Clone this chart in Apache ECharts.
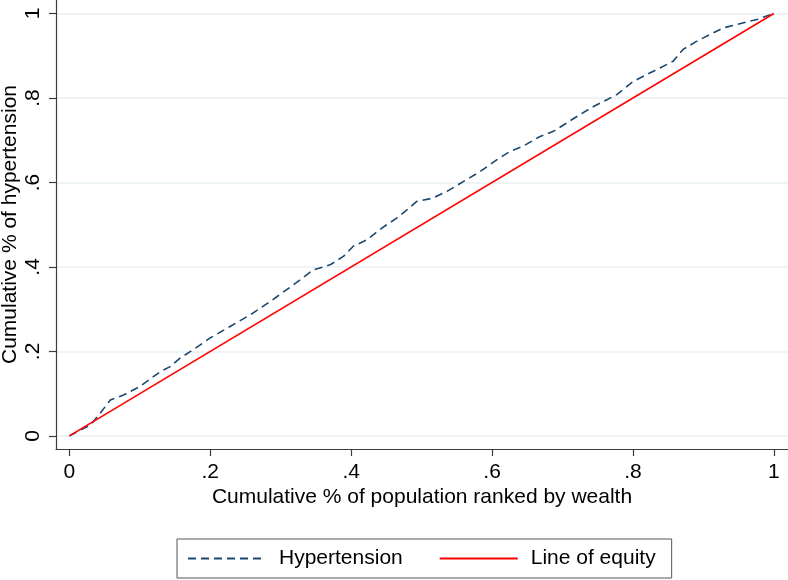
<!DOCTYPE html>
<html>
<head>
<meta charset="utf-8">
<style>
html,body{margin:0;padding:0;background:#fff;}
#chart{width:788px;height:580px;}
</style>
<script src="https://cdn.jsdelivr.net/npm/echarts@6/dist/echarts.min.js"></script>
</head>
<body>
<div id="chart"></div>
<script>
// Data
const popShare = [0, 0.030, 0.044, 0.058, 0.077, 0.100, 0.129, 0.143, 0.157, 0.172, 0.200, 0.228, 0.257, 0.285, 0.295, 0.328, 0.346, 0.370, 0.389, 0.403, 0.422, 0.446, 0.465, 0.474, 0.493, 0.516, 0.536, 0.559, 0.583, 0.607, 0.626, 0.644, 0.668, 0.687, 0.706, 0.725, 0.744, 0.763, 0.777, 0.800, 0.819, 0.838, 0.857, 0.871, 0.890, 0.909, 0.928, 0.947, 0.976, 1];
const hypertension = [0, 0.026, 0.054, 0.085, 0.097, 0.117, 0.152, 0.164, 0.184, 0.200, 0.232, 0.259, 0.287, 0.318, 0.330, 0.370, 0.393, 0.405, 0.425, 0.449, 0.464, 0.495, 0.516, 0.528, 0.555, 0.563, 0.579, 0.602, 0.626, 0.654, 0.674, 0.686, 0.709, 0.721, 0.741, 0.761, 0.780, 0.796, 0.808, 0.839, 0.855, 0.871, 0.887, 0.915, 0.934, 0.950, 0.966, 0.974, 0.986, 1];
const equityX = [0, 1];
const equityY = [0, 1];
const tickValues = [0, 0.2, 0.4, 0.6, 0.8, 1];
const seriesNames = ['Hypertension', 'Line of equity'];

function fmt(v) {
  if (Math.abs(v) < 1e-9) return '0';
  if (Math.abs(v - 1) < 1e-9) return '1';
  return String(Math.round(v * 10) / 10).replace(/^0/, '');
}

const FONT = 'Liberation Sans, Arial, Helvetica, sans-serif';
const chart = echarts.init(document.getElementById('chart'), null, {renderer: 'canvas'});

chart.setOption({
  animation: false,
  backgroundColor: '#ffffff',
  textStyle: {fontFamily: FONT},
  grid: {left: 56, right: 0, top: 0, bottom: 131, containLabel: false, outerBoundsMode: 'none'},
  xAxis: {
    type: 'value',
    min: -0.019, max: 1.02,
    name: 'Cumulative % of population ranked by wealth',
    nameLocation: 'middle',
    nameGap: 38,
    nameMoveOverlap: false,
    nameTextStyle: {fontSize: 21, color: '#000', fontFamily: FONT},
    axisLine: {show: true, onZero: false, lineStyle: {color: '#3c3c3c', width: 1.2}},
    axisTick: {show: true, length: 7, customValues: tickValues, lineStyle: {color: '#3c3c3c', width: 1.2}},
    axisLabel: {customValues: tickValues, formatter: fmt, fontSize: 21, color: '#000', margin: 13, fontFamily: FONT},
    splitLine: {show: false}
  },
  yAxis: {
    type: 'value',
    min: -0.031, max: 1.032,
    name: 'Cumulative % of hypertension',
    nameLocation: 'middle',
    nameGap: 35,
    nameRotate: 90,
    nameMoveOverlap: false,
    nameTextStyle: {fontSize: 21, color: '#000', fontFamily: FONT},
    axisLine: {show: true, onZero: false, lineStyle: {color: '#3c3c3c', width: 1.2}},
    axisTick: {show: true, length: 7, customValues: tickValues, lineStyle: {color: '#3c3c3c', width: 1.2}},
    axisLabel: {customValues: tickValues, formatter: fmt, fontSize: 21, color: '#000', margin: 12, rotate: 90, fontFamily: FONT},
    splitLine: {show: true, lineStyle: {color: '#e8f0f2', width: 1.5}}
  },
  legend: {
    left: 177, top: 539,
    orient: 'horizontal',
    itemWidth: 78, itemHeight: 14, itemGap: 36,
    padding: [9, 16, 9, 10],
    borderColor: '#555', borderWidth: 1,
    backgroundColor: '#fff',
    itemStyle: {opacity: 0},
    textStyle: {fontSize: 21, color: '#000', fontFamily: FONT, padding: [0, 0, 0, 8]},
    data: seriesNames
  },
  series: [
    {
      name: seriesNames[0], type: 'line', showSymbol: false, symbol: 'none',
      data: popShare.map((x, i) => [x, hypertension[i]]),
      lineStyle: {color: '#1a476f', width: 1.6, type: [8, 5]},
      itemStyle: {color: '#1a476f'},
      z: 3
    },
    {
      name: seriesNames[1], type: 'line', showSymbol: false, symbol: 'none',
      data: equityX.map((x, i) => [x, equityY[i]]),
      lineStyle: {color: '#ff0000', width: 1.6, type: 'solid'},
      itemStyle: {color: '#ff0000'},
      z: 4
    }
  ]
});
</script>
</body>
</html>
